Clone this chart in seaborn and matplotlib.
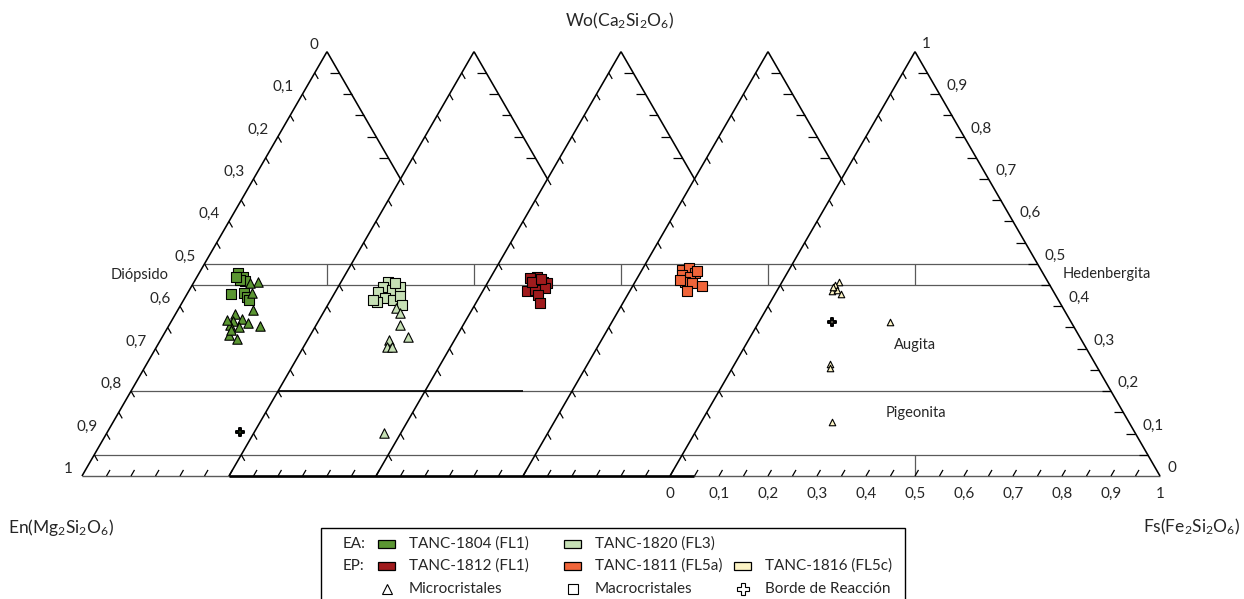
import numpy as np
import pandas as pd
import matplotlib
matplotlib.use("Agg")
import matplotlib.pyplot as plt
import seaborn as sns
from matplotlib.patches import Rectangle
from matplotlib.lines import Line2D

sns.set_theme(style="white")
plt.rcParams['font.family'] = ['Lato', 'DejaVu Sans']
plt.rcParams['mathtext.fontset'] = 'custom'
plt.rcParams['mathtext.rm'] = 'Lato'
plt.rcParams['mathtext.it'] = 'Lato:italic'
plt.rcParams['mathtext.bf'] = 'Lato:bold'

# ---------------------------------------------------------------- data
# Pyroxene compositions as molar fractions (Wo, Fs); En = 1 - Wo - Fs

# TANC-1804 (FL1)
wo_1804_macro = [0.478, 0.468, 0.460, 0.462, 0.428, 0.432, 0.421, 0.415, 0.469]
fs_1804_macro = [0.079, 0.094, 0.103, 0.091, 0.090, 0.115, 0.126, 0.134, 0.080]
wo_1804_micro = [0.456, 0.454, 0.432, 0.391, 0.382, 0.369, 0.365, 0.360,
                 0.350, 0.356, 0.354, 0.332, 0.323, 0.368, 0.344]
fs_1804_micro = [0.132, 0.116, 0.130, 0.153, 0.121, 0.143, 0.126, 0.159,
                 0.145, 0.124, 0.187, 0.135, 0.154, 0.112, 0.132]
wo_1804_borde = [0.103]
fs_1804_borde = [0.270]

# TANC-1820 (FL3)
wo_1820_macro = [0.458, 0.446, 0.438, 0.446, 0.434, 0.419, 0.411, 0.415,
                 0.423, 0.403, 0.415, 0.455]
fs_1820_macro = [0.096, 0.092, 0.113, 0.126, 0.088, 0.109, 0.096, 0.128,
                 0.138, 0.151, 0.087, 0.111]
wo_1820_micro = [0.397, 0.383, 0.356, 0.328, 0.321, 0.303, 0.305, 0.101]
fs_1820_micro = [0.142, 0.158, 0.172, 0.202, 0.167, 0.170, 0.180, 0.266]

# TANC-1812 (FL1)
wo_1812_macro = [0.470, 0.466, 0.458, 0.454, 0.454, 0.446, 0.437, 0.438,
                 0.442, 0.427, 0.408, 0.458, 0.464]
fs_1812_macro = [0.093, 0.081, 0.112, 0.094, 0.121, 0.108, 0.089, 0.106,
                 0.124, 0.118, 0.131, 0.089, 0.105]

# TANC-1811 (FL5a)
wo_1811_macro = [0.486, 0.490, 0.478, 0.474, 0.470, 0.458, 0.454, 0.448,
                 0.437, 0.482, 0.462]
fs_1811_macro = [0.081, 0.093, 0.112, 0.087, 0.106, 0.102, 0.117, 0.141,
                 0.116, 0.114, 0.089]

# TANC-1816 (FL5c)
wo_1816_micro = [0.458, 0.450, 0.437, 0.438, 0.428, 0.446, 0.364, 0.264,
                 0.255, 0.128]
fs_1816_micro = [0.115, 0.112, 0.112, 0.121, 0.136, 0.110, 0.267, 0.195,
                 0.200, 0.266]
wo_1816_borde = [0.364]
fs_1816_borde = [0.148]

samples = ["TANC-1804 (FL1)", "TANC-1820 (FL3)", "TANC-1812 (FL1)",
           "TANC-1811 (FL5a)", "TANC-1816 (FL5c)"]
groups = ["EA", "EA", "EP", "EP", "EP"]
colors = ["#5B9632", "#C6E0B5", "#A01B1D", "#F0653A", "#FCF3C4"]
tick_vals = [0, 0.1, 0.2, 0.3, 0.4, 0.5, 0.6, 0.7, 0.8, 0.9, 1]
field_names = ["Diópsido", "Hedenbergita", "Augita", "Pigeonita"]

# ---------------------------------------------------------------- geometry
HGT = np.sqrt(3) / 2
SHIFT = 0.3          # horizontal offset between the stacked diagrams
PX = 490.0           # pixels per unit side
X0, Y0 = 82.0, 476.0


def tern(wo, fs, k=0):
    wo = np.asarray(wo, float)
    fs = np.asarray(fs, float)
    return SHIFT * k + fs + wo / 2, wo * HGT


def px(xp, yp):
    return (xp - X0) / PX, (Y0 - yp) / PX


def fmt(v):
    if v == 0:
        return "0"
    if v == 1:
        return "1"
    return f"{v:.1f}".replace(".", ",")


records = []
def add(sample, kind, wo, fs, k):
    x, y = tern(wo, fs, k)
    for xi, yi, w, f in zip(x, y, wo, fs):
        records.append(dict(muestra=sample, tipo=kind, panel=k, Wo=w, Fs=f,
                            En=1 - w - f, x=xi, y=yi))

add(samples[0], "Macrocristales", wo_1804_macro, fs_1804_macro, 0)
add(samples[0], "Microcristales", wo_1804_micro, fs_1804_micro, 0)
add(samples[0], "Borde de Reacción", wo_1804_borde, fs_1804_borde, 0)
add(samples[1], "Macrocristales", wo_1820_macro, fs_1820_macro, 1)
add(samples[1], "Microcristales", wo_1820_micro, fs_1820_micro, 1)
add(samples[2], "Macrocristales", wo_1812_macro, fs_1812_macro, 2)
add(samples[3], "Macrocristales", wo_1811_macro, fs_1811_macro, 3)
add(samples[4], "Microcristales", wo_1816_micro, fs_1816_micro, 4)
add(samples[4], "Borde de Reacción", wo_1816_borde, fs_1816_borde, 4)
df = pd.DataFrame(records)

# ---------------------------------------------------------------- figure
W, H, DPI = 1244, 599, 100
fig = plt.figure(figsize=(W / DPI, H / DPI), dpi=DPI)
ax = fig.add_axes([0, 0, 1, 1])
ax.set_xlim(-X0 / PX, (W - X0) / PX)
ax.set_ylim(-(H - Y0) / PX, Y0 / PX)
ax.axis("off")

EDGE = "black"
GRID = "#5a5a5a"
LW_EDGE = 1.15

def seg(p, q, **kw):
    ax.plot([p[0], q[0]], [p[1], q[1]], solid_capstyle="butt", **kw)

# field boundaries (Wo = 0.5, 0.45, 0.2, 0.05) across all diagrams
for w in (0.5, 0.45, 0.2, 0.05):
    seg(tern(w, 0, 0), tern(w, 1 - w, 4), color=GRID, lw=0.9, zorder=1)
seg(tern(0, 0, 0), tern(0, 1, 4), color=GRID, lw=1.0, zorder=1)
seg((0.3, 0), (1.25, 0), color=EDGE, lw=1.9, zorder=2)
seg((0.4, 0.2 * HGT), (0.9, 0.2 * HGT), color=EDGE, lw=1.2, zorder=2)

# Di-Hd and En-Fs dividers
for k in range(5):
    seg(tern(0.45, 0.5 - 0.225, k), tern(0.5, 0.25, k), color=GRID, lw=0.9, zorder=1)
seg(tern(0, 0.5, 4), tern(0.05, 0.475, 4), color=GRID, lw=0.9, zorder=1)

# triangle sides
for k in range(5):
    seg(tern(1, 0, k), tern(0, 0, k), color=EDGE, lw=LW_EDGE, zorder=3)
    wo_end = 0.7 if k < 4 else 0.0
    seg(tern(1, 0, k), tern(wo_end, 1 - wo_end, k), color=EDGE, lw=LW_EDGE, zorder=3)

# ticks
TL = 7 / PX
TR = 9 / PX
steps = np.round(np.arange(0.05, 1.0, 0.05), 2)
for k in range(5):
    for e in steps:
        p = tern(1 - e, 0, k)
        seg(p, (p[0] + TL * 0.5, p[1] - TL * HGT), color=EDGE, lw=0.9, zorder=3)
    for w in steps:
        if k < 4 and w < 0.75:
            continue
        p = tern(w, 1 - w, k)
        seg(p, (p[0] - TR, p[1]), color=EDGE, lw=0.9, zorder=3)
for j in range(1, 44):
    u = 0.05 * j
    seg((u, 0), (u + TL * 0.5, TL * HGT), color=EDGE, lw=0.9, zorder=3)

# tick labels
TFS = 11
for v in tick_vals:
    x, y = tern(1 - v, 0, 0)
    ax.text(x - 9 / PX, y + 7 / PX, fmt(v), ha="right", va="center", fontsize=TFS)
    x, y = tern(v, 1 - v, 4)
    ax.text(x + 7 / PX, y + 8 / PX, fmt(v), ha="left", va="center", fontsize=TFS)
    x, y = tern(0, v, 4)
    ax.text(x, y - 18 / PX, fmt(v), ha="center", va="center", fontsize=TFS)

# end-member labels
AFS = 12.5
ax.text(*px(565, 21), r"Wo(Ca$_2$Si$_2$O$_6$)", ha="left", va="center", fontsize=AFS)
ax.text(*px(8, 527), r"En(Mg$_2$Si$_2$O$_6$)", ha="left", va="center", fontsize=AFS)
ax.text(*px(1240, 527), r"Fs(Fe$_2$Si$_2$O$_6$)", ha="right", va="center", fontsize=AFS)

# field names
FFS = 10.5
ax.text(*px(140, 275), field_names[0], ha="center", va="center", fontsize=FFS)
ax.text(*px(1107, 274), field_names[1], ha="center", va="center", fontsize=FFS)
ax.text(*px(915, 345), field_names[2], ha="center", va="center", fontsize=FFS)
ax.text(*px(916, 413), field_names[3], ha="center", va="center", fontsize=FFS)

# ---------------------------------------------------------------- points
markers = {"Macrocristales": "s", "Microcristales": "^", "Borde de Reacción": "P"}
draw_order = ["Macrocristales", "Microcristales", "Borde de Reacción"]
for sample, color in zip(samples, colors):
    for kind in draw_order:
        sub = df[(df.muestra == sample) & (df.tipo == kind)]
        if sub.empty:
            continue
        lw = 0.8
        if sample == samples[4]:
            size = 22 if kind == "Microcristales" else 30
        else:
            size = 46 if kind != "Borde de Reacción" else 36
        if kind == "Borde de Reacción":
            lw = 1.4
        sns.scatterplot(data=sub, x="x", y="y", marker=markers[kind], s=size,
                        color=color, edgecolor="black", linewidth=lw,
                        ax=ax, legend=False, zorder=5)
ax.set_xlabel("")
ax.set_ylabel("")
ax.set_xlim(-X0 / PX, (W - X0) / PX)
ax.set_ylim(-(H - Y0) / PX, Y0 / PX)

# ---------------------------------------------------------------- legend
LFS = 11
bx0, by0 = px(321, 640)
bx1, by1 = px(905, 528)
ax.add_patch(Rectangle((bx0, by0), bx1 - bx0, by1 - by0, fill=False,
                       edgecolor="black", lw=1.0, zorder=6))
rows = [544, 566, 589]
ax.text(*px(343, rows[0]), "EA:", ha="left", va="center", fontsize=LFS)
ax.text(*px(343, rows[1]), "EP:", ha="left", va="center", fontsize=LFS)

def swatch(xl, yc, color):
    x0, y0 = px(xl, yc + 4)
    ax.add_patch(Rectangle((x0, y0), 17 / PX, 8 / PX, facecolor=color,
                           edgecolor="black", lw=0.9, zorder=6))

entries = [(378, 409, rows[0], 0), (564, 595, rows[0], 1),
           (378, 409, rows[1], 2), (564, 595, rows[1], 3),
           (734, 765, rows[1], 4)]
for xs, xt, yr, i in entries:
    swatch(xs, yr, colors[i])
    ax.text(*px(xt, yr), samples[i], ha="left", va="center", fontsize=LFS)

sym = [(387, 409, "^", "Microcristales", 7),
       (573, 595, "s", "Macrocristales", 7),
       (743, 765, "P", "Borde de Reacción", 9)]
for xm, xt, m, label, ms in sym:
    ax.add_line(Line2D([px(xm, rows[2])[0]], [px(xm, rows[2])[1]], marker=m,
                       markersize=ms, markerfacecolor="white",
                       markeredgecolor="black", markeredgewidth=0.8,
                       linestyle="none", zorder=6))
    ax.text(*px(xt, rows[2]), label, ha="left", va="center", fontsize=LFS)

fig.savefig("out.png", dpi=DPI, facecolor="white")
